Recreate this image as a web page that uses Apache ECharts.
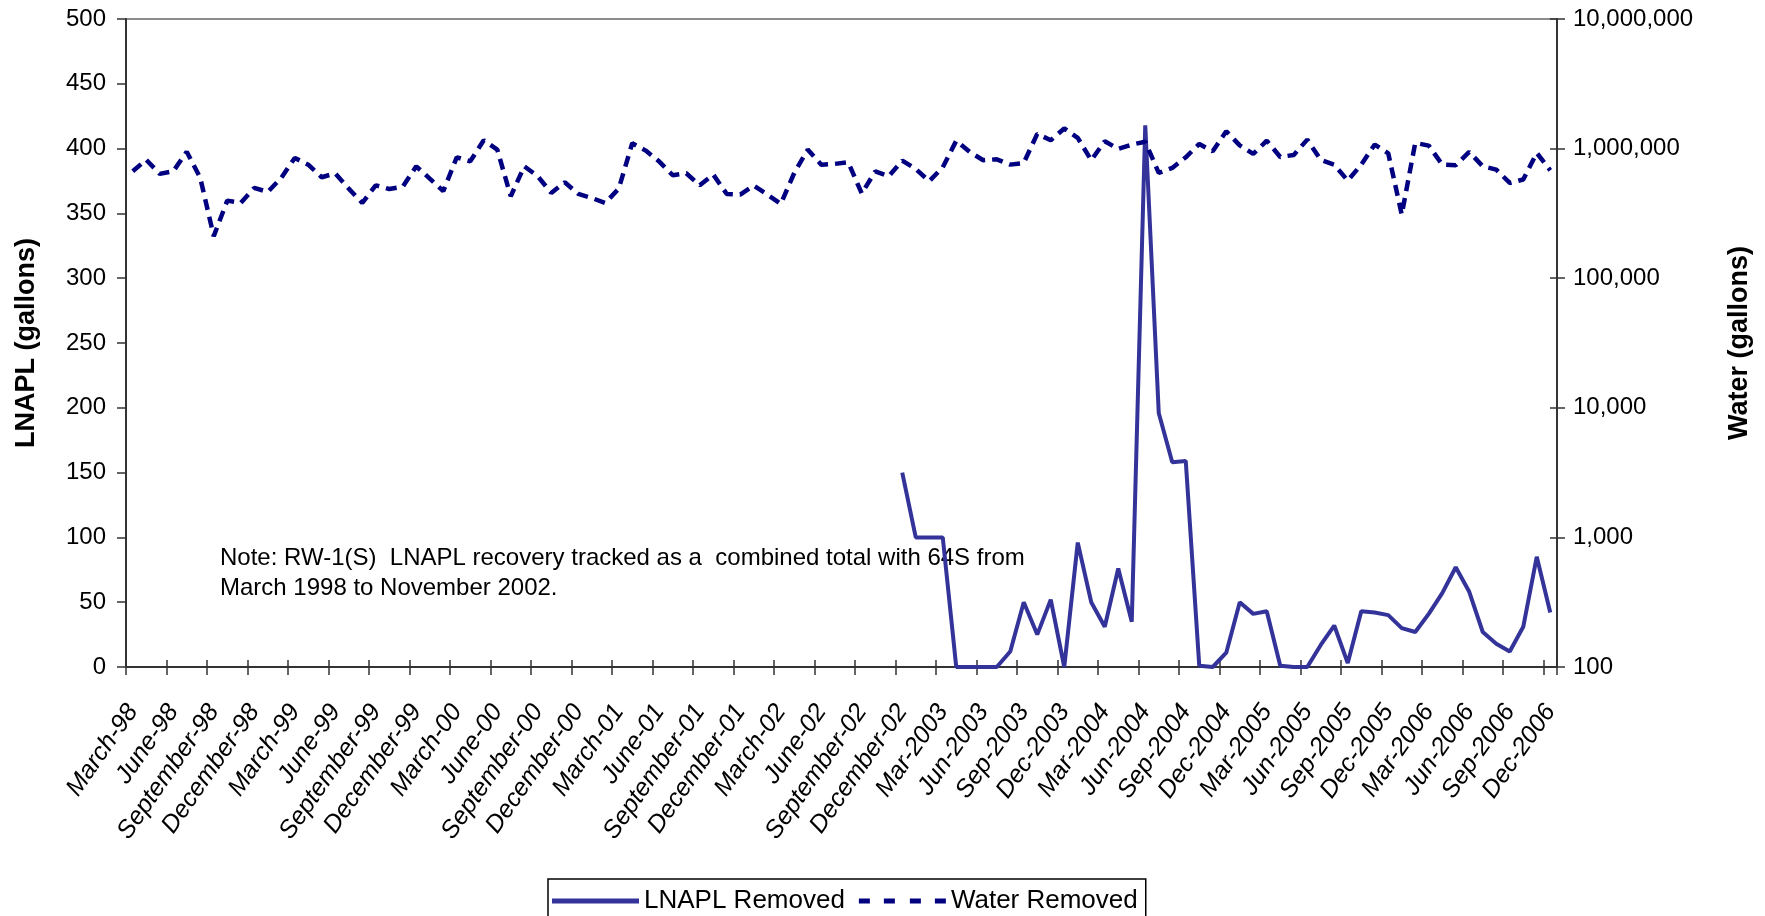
<!DOCTYPE html>
<html>
<head>
<meta charset="utf-8">
<script src="https://cdn.jsdelivr.net/npm/echarts@6/dist/echarts.min.js"></script>
<style>
html,body{margin:0;padding:0;background:#fff;}
#chart{width:1765px;height:916px;}
</style>
</head>
<body>
<div id="chart"></div>
<script>
// Monthly categories, March 1998 - December 2006
const categories = [
 'March-98','April-98','May-98','June-98','July-98','August-98','September-98','October-98','November-98','December-98',
 'January-99','February-99','March-99','April-99','May-99','June-99','July-99','August-99','September-99','October-99','November-99','December-99',
 'January-00','February-00','March-00','April-00','May-00','June-00','July-00','August-00','September-00','October-00','November-00','December-00',
 'January-01','February-01','March-01','April-01','May-01','June-01','July-01','August-01','September-01','October-01','November-01','December-01',
 'January-02','February-02','March-02','April-02','May-02','June-02','July-02','August-02','September-02','October-02','November-02','December-02',
 'Jan-2003','Feb-2003','Mar-2003','Apr-2003','May-2003','Jun-2003','Jul-2003','Aug-2003','Sep-2003','Oct-2003','Nov-2003','Dec-2003',
 'Jan-2004','Feb-2004','Mar-2004','Apr-2004','May-2004','Jun-2004','Jul-2004','Aug-2004','Sep-2004','Oct-2004','Nov-2004','Dec-2004',
 'Jan-2005','Feb-2005','Mar-2005','Apr-2005','May-2005','Jun-2005','Jul-2005','Aug-2005','Sep-2005','Oct-2005','Nov-2005','Dec-2005',
 'Jan-2006','Feb-2006','Mar-2006','Apr-2006','May-2006','Jun-2006','Jul-2006','Aug-2006','Sep-2006','Oct-2006','Nov-2006','Dec-2006'
];

// Water removed (gallons), one value per month
const waterRemoved = [
 668000, 820000, 638000, 668000, 945000, 594000, 211000, 397000, 381000, 497000,
 463000, 594000, 847000, 752000, 601000, 645000, 491000, 381000, 521000, 488000, 509000, 730000,
 587000, 469000, 857000, 798000, 1160000, 982000, 429000, 730000, 612000, 455000, 550000, 447000,
 416000, 381000, 491000, 1100000, 965000, 794000, 623000, 645000, 521000, 630000, 447000, 442000,
 518000, 442000, 374000, 649000, 982000, 752000, 762000, 784000, 450000, 668000, 612000, 808000,
 696000, 560000, 718000, 1150000, 942000, 813000, 827000, 752000, 775000, 1300000, 1160000, 1430000,
 1210000, 813000, 1140000, 994000, 1074000, 1130000, 649000, 709000, 857000, 1086000, 954000, 1360000,
 1060000, 910000, 1150000, 862000, 894000, 1173000, 818000, 752000, 566000, 752000, 1074000, 920000,
 310000, 1106000, 1055000, 752000, 744000, 942000, 730000, 689000, 543000, 577000, 926000, 680000
];

// LNAPL removed (gallons), tracked for RW-1(S) alone from December-02 onward
const lnaplStartMonth = 'December-02';
const lnaplRemoved = [
 150, 100, 100, 100, 0, 0, 0, 0, 12, 50, 25, 52, 0,
 96, 50, 31, 76, 35, 418, 196, 158, 159, 1, 0, 11,
 50, 41, 43, 1, 0, 0, 17, 32, 3, 43, 42, 40,
 30, 27, 41, 57, 77, 58, 27, 18, 12, 31, 85, 42
];

const leftTicks = {min: 0, max: 500, interval: 50};
const rightTicks = {min: 100, max: 10000000};
const seriesNames = ['LNAPL Removed', 'Water Removed'];
const noteText = 'Note: RW-1(S)  LNAPL recovery tracked as a  combined total with 64S from\nMarch 1998 to November 2002.';

const FONT = "'Liberation Sans', Arial, sans-serif";
const startIdx = categories.indexOf(lnaplStartMonth);
const lnaplData = lnaplRemoved.map((v, i) => [categories[startIdx + i], v]);

const solidIcon = 'path://M0,0H87V5H0Z';
const dashIcon = 'path://M0,0h11v5h-11z M25,0h11v5h-11z M51,0h11v5h-11z M76,0h11v5h-11z';

const chart = echarts.init(document.getElementById('chart'), null, {renderer: 'canvas'});
const axisColor = '#333';
chart.setOption({
  animation: false,
  backgroundColor: '#fff',
  textStyle: {fontFamily: FONT},
  grid: {left: 126, right: 208, top: 19, bottom: 249, show: true, borderColor: '#8c8c8c', borderWidth: 2, backgroundColor: 'transparent'},
  legend: {
    left: 548, top: 879, orient: 'horizontal',
    data: [
      {name: seriesNames[0], icon: solidIcon, itemStyle: {color: '#333399'}},
      {name: seriesNames[1], icon: dashIcon, itemStyle: {color: '#000080'}}
    ],
    itemWidth: 87, itemHeight: 5, itemGap: 14,
    padding: [9, 8, 10, 4],
    borderColor: '#000', borderWidth: 1.5,
    textStyle: {fontSize: 26, color: '#000', fontFamily: FONT}
  },
  graphic: [{
    type: 'text', left: 220, top: 543,
    style: {text: noteText, font: "24px 'Liberation Sans', Arial, sans-serif", lineHeight: 30, fill: '#000'}
  }],
  xAxis: [{
    type: 'category', data: categories, boundaryGap: true, position: 'bottom',
    axisLine: {show: true, lineStyle: {color: axisColor, width: 2}},
    axisTick: {show: true, interval: 2, length: 8, lineStyle: {color: axisColor, width: 1.5}},
    axisLabel: {interval: 2, rotate: 55, fontSize: 25, fontStyle: 'italic', color: '#000', margin: 40, fontFamily: FONT},
    splitLine: {show: false}
  }, {
    type: 'category', data: categories, boundaryGap: true, position: 'bottom',
    axisLine: {show: false},
    axisTick: {show: true, inside: true, interval: 2, length: 7, lineStyle: {color: axisColor, width: 1.5}},
    axisLabel: {show: false}, splitLine: {show: false}
  }],
  yAxis: [{
    type: 'value', position: 'left', min: leftTicks.min, max: leftTicks.max, interval: leftTicks.interval,
    name: 'LNAPL (gallons)', nameLocation: 'middle', nameGap: 86, nameRotate: 90,
    nameTextStyle: {fontWeight: 'bold', fontSize: 27, color: '#000', fontFamily: FONT},
    axisLine: {show: true, lineStyle: {color: axisColor, width: 2}},
    axisTick: {show: true, length: 9, lineStyle: {color: axisColor, width: 1.5}},
    axisLabel: {fontSize: 24, color: '#000', margin: 20, fontFamily: FONT},
    splitLine: {show: false}
  }, {
    type: 'log', logBase: 10, position: 'right', min: rightTicks.min, max: rightTicks.max,
    name: 'Water (gallons)', nameLocation: 'middle', nameGap: 169, nameRotate: 90,
    nameTextStyle: {fontWeight: 'bold', fontSize: 27, color: '#000', fontFamily: FONT},
    axisLine: {show: true, lineStyle: {color: axisColor, width: 2}},
    axisTick: {show: true, length: 8, lineStyle: {color: axisColor, width: 1.5}},
    axisLabel: {fontSize: 24, color: '#000', margin: 16, fontFamily: FONT,
      formatter: v => Math.round(v).toString().replace(/\B(?=(\d{3})+(?!\d))/g, ',')},
    splitLine: {show: false}
  }, {
    type: 'log', logBase: 10, position: 'right', min: rightTicks.min, max: rightTicks.max,
    axisLine: {show: false},
    axisTick: {show: true, inside: true, length: 7, lineStyle: {color: axisColor, width: 1.5}},
    axisLabel: {show: false}, splitLine: {show: false}
  }],
  series: [{
    name: seriesNames[0], type: 'line', xAxisIndex: 0, yAxisIndex: 0,
    data: lnaplData, symbol: 'none', connectNulls: false,
    lineStyle: {color: '#333399', width: 4}, itemStyle: {color: '#333399'}
  }, {
    name: seriesNames[1], type: 'line', xAxisIndex: 0, yAxisIndex: 1,
    data: waterRemoved, symbol: 'none',
    lineStyle: {color: '#000080', width: 4.5, type: [11, 7]}, itemStyle: {color: '#000080'}
  }]
});
</script>
</body>
</html>
